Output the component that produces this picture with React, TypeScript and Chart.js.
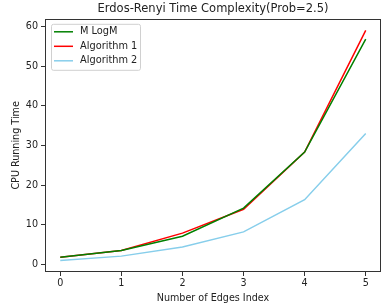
import React, { useEffect, useRef } from "react";
import { Chart, registerables } from "chart.js";

Chart.register(...registerables);

const xIndex = [0, 1, 2, 3, 4, 5];
const mLogM = [1.8, 3.5, 7.1, 14.2, 28.3, 56.8];
const algorithm1 = [1.8, 3.5, 7.9, 13.9, 28.3, 59.0];
const algorithm2 = [1.0, 2.1, 4.4, 8.2, 16.3, 33.0];
const yTicks = [0, 10, 20, 30, 40, 50, 60];
const xTicks = [0, 1, 2, 3, 4, 5];

const FONT = "'DejaVu Sans', sans-serif";

const boxPlugin = {
  id: "boxPlugin",
  afterDraw(chart: any) {
    const { ctx, chartArea } = chart;
    ctx.save();
    ctx.strokeStyle = "#333";
    ctx.lineWidth = 1;
    ctx.strokeRect(
      Math.round(chartArea.left) + 0.5,
      Math.round(chartArea.top) + 0.5,
      Math.round(chartArea.right - chartArea.left) - 1,
      Math.round(chartArea.bottom - chartArea.top) - 1
    );
    // legend
    const lx = chartArea.left + 6;
    const ly = chartArea.top + 5;
    const w = 89;
    const h = 46;
    ctx.fillStyle = "rgba(255,255,255,0.8)";
    ctx.strokeStyle = "#d0d0d0";
    ctx.lineWidth = 1;
    ctx.beginPath();
    ctx.roundRect(lx + 0.5, ly + 0.5, w, h, 2);
    ctx.fill();
    ctx.stroke();
    ctx.font = `9.8px ${FONT}`;
    ctx.textBaseline = "middle";
    chart.data.datasets.forEach((ds: any, i: number) => {
      const y = ly + 8 + i * 14.5;
      ctx.strokeStyle = ds.borderColor;
      ctx.lineWidth = 1.5;
      ctx.beginPath();
      ctx.moveTo(lx + 3, y);
      ctx.lineTo(lx + 22, y);
      ctx.stroke();
      ctx.fillStyle = "#222";
      ctx.fillText(ds.label, lx + 29, y);
    });
    ctx.restore();
  },
};

export default function App() {
  const ref = useRef<HTMLCanvasElement>(null);
  useEffect(() => {
    const mk = (arr: number[]) => xIndex.map((x, i) => ({ x, y: arr[i] }));
    const chart = new Chart(ref.current!, {
      type: "line",
      data: {
        datasets: [
          { label: "M LogM", data: mk(mLogM), borderColor: "#008000", borderWidth: 1.5, pointRadius: 0, tension: 0 },
          { label: "Algorithm 1", data: mk(algorithm1), borderColor: "#ff0000", borderWidth: 1.5, pointRadius: 0, tension: 0 },
          { label: "Algorithm 2", data: mk(algorithm2), borderColor: "#87ceeb", borderWidth: 1.5, pointRadius: 0, tension: 0 },
        ],
      },
      options: {
        animation: false,
        responsive: false,
        layout: { padding: { top: 0, right: 1, bottom: 3, left: 11 } },
        plugins: {
          legend: { display: false },
          tooltip: { enabled: false },
          title: {
            display: true,
            text: "Erdos-Renyi Time Complexity(Prob=2.5)",
            fullSize: false,
            color: "#222",
            font: { family: FONT, size: 11.5, weight: "normal" },
            padding: { top: 2, bottom: 3 },
          },
        },
        scales: {
          x: {
            type: "linear",
            min: -0.25,
            max: 5.25,
            afterBuildTicks: (s: any) => {
              s.ticks = xTicks.map((v) => ({ value: v }));
            },
            afterFit: (s: any) => {
              s.height = 32;
            },
            grid: { display: true, drawOnChartArea: false, drawTicks: true, tickLength: 4, color: "#333" },
            border: { display: false },
            ticks: { color: "#222", font: { family: FONT, size: 9.6 }, padding: 2, maxRotation: 0 },
            title: {
              display: true,
              text: "Number of Edges Index",
              color: "#222",
              font: { family: FONT, size: 9.6 },
              padding: { top: 1, bottom: 0 },
            },
          },
          y: {
            type: "linear",
            min: -1.9,
            max: 61.9,
            afterBuildTicks: (s: any) => {
              s.ticks = yTicks.map((v) => ({ value: v }));
            },
            afterFit: (s: any) => {
              s.width = 34;
            },
            grid: { display: true, drawOnChartArea: false, drawTicks: true, tickLength: 4, color: "#333" },
            border: { display: false },
            ticks: { color: "#222", font: { family: FONT, size: 9.6 }, padding: 3 },
            title: {
              display: true,
              text: "CPU Running Time",
              color: "#222",
              font: { family: FONT, size: 9.6 },
              padding: { top: 0, bottom: 0 },
            },
          },
        },
      },
      plugins: [boxPlugin],
    });
    return () => chart.destroy();
  }, []);
  return (
    <div style={{ position: "absolute", left: 0, top: 0, width: 382, height: 307, background: "#fff" }}>
      <canvas ref={ref} width={382} height={307} style={{ width: 382, height: 307 }} />
    </div>
  );
}
